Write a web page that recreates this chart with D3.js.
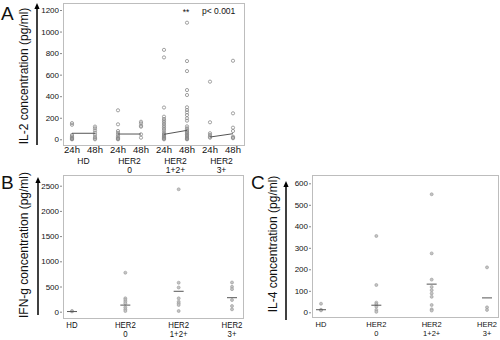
<!DOCTYPE html>
<html>
<head>
<meta charset="utf-8">
<script src="https://cdn.jsdelivr.net/npm/d3@7"></script>
<style>
body { margin: 0; background: #fff; }
text { font-family: "Liberation Sans", Arial, sans-serif; fill: #111; }
</style>
</head>
<body>
<div id="chart"></div>
<script>
// Group labels (shared by all three panels), one entry per text line
var groupLabels = [["HD"], ["HER2", "0"], ["HER2", "1+2+"], ["HER2", "3+"]];
var timeLabels = ["24h", "48h"];

// Panel A: IL-2 (pg/ml) after 24h and 48h
var il2At24h = [
    [150, 135, 40, 28, 18, 10, 5, 2, 0],
    [269, 139, 77, 60, 42, 25, 15, 8, 3, 0],
    [830, 760, 295, 210, 188, 173, 158, 142, 126, 111, 96, 80, 61, 49, 40, 31, 24, 18, 10, 5, 0],
    [535, 158, 56, 40, 24, 15]
];
var il2At48h = [
    [118, 102, 82, 62, 42, 20, 8, 0],
    [163, 148, 126, 117, 46, 15],
    [1082, 726, 633, 457, 411, 297, 272, 250, 225, 195, 173, 120, 102, 90, 77, 65, 58, 45, 40, 30, 21, 12, 6, 3, 0],
    [729, 241, 108, 77, 24, 15, 10]
];
var il2Median24h = [56, 49, 46, 21];
var il2Median48h = [56, 49, 83, 52];
var il2Ticks = [0, 200, 400, 600, 800, 1000, 1200];

// Panel B: IFN-g (pg/ml)
var ifng = [
    [14, 5],
    [774, 266, 232, 198, 166, 87, 47, 14],
    [2429, 575, 480, 266, 198, 166, 133, 14],
    [580, 495, 447, 232, 113, 47]
];
var ifngMedian = [3, 131, 405, 278];
var ifngTicks = [0, 500, 1000, 1500, 2000, 2500];

// Panel C: IL-4 (pg/ml)
var il4 = [
    [40, 12, 9],
    [355, 127, 45, 38, 26, 11, 2],
    [549, 274, 152, 118, 103, 88, 72, 34, 14, 8],
    [209, 23, 11]
];
var il4Median = [12, 33, 131, 67];
var il4Ticks = [0, 100, 200, 300, 400, 500, 600];

var svg = d3.select("#chart")
    .append("svg")
    .attr("width", 500)
    .attr("height", 340);

// helpers
function drawFrame(x0, y0, x1, y1) {
    svg.append("rect")
        .attr("x", x0 + 0.5).attr("y", y0 + 0.5)
        .attr("width", x1 - x0).attr("height", y1 - y0)
        .attr("fill", "none")
        .attr("stroke", "#bdbdbd");
}

function drawYAxis(scale, ticks, x) {
    var g = svg.append("g")
        .attr("transform", "translate(" + x + ",0)")
        .call(d3.axisLeft(scale).tickValues(ticks).tickFormat(d3.format("d")).tickSize(2).tickPadding(1));
    g.select(".domain").remove();
    g.selectAll(".tick line").attr("stroke", "#888");
    g.selectAll(".tick text")
        .attr("font-size", "8px")
        .attr("font-family", "Liberation Sans, Arial, sans-serif")
        .attr("fill", "#222");
}

function drawArrow(x, yBottom, yTip) {
    svg.append("line")
        .attr("x1", x).attr("x2", x)
        .attr("y1", yBottom).attr("y2", yTip + 4)
        .attr("stroke", "#000")
        .attr("stroke-width", 1.5);
    svg.append("path")
        .attr("d", "M" + x + "," + yTip + "L" + (x - 2.6) + "," + (yTip + 6) + "L" + (x + 2.6) + "," + (yTip + 6) + "Z")
        .attr("fill", "#000");
}

function drawYLabel(text, x, y) {
    svg.append("text")
        .attr("transform", "translate(" + x + "," + y + ") rotate(-90)")
        .attr("text-anchor", "middle")
        .attr("font-size", "12px")
        .text(text);
}

function drawPanelLetter(letter, x, y) {
    svg.append("text")
        .attr("x", x).attr("y", y)
        .attr("font-size", "19px")
        .text(letter);
}

// ---------- Panel A ----------
var xA = d3.scalePoint().domain(d3.range(8)).range([72, 233]);
var yA = d3.scaleLinear().domain([0, 1200]).range([139.3, 10]);

drawFrame(63, 3, 244, 145);
drawYAxis(yA, il2Ticks, 62);

groupLabels.forEach(function (lab, i) {
    [il2At24h[i], il2At48h[i]].forEach(function (vals, t) {
        svg.selectAll(null)
            .data(vals)
            .enter()
            .append("circle")
            .attr("cx", xA(i * 2 + t))
            .attr("cy", d => yA(d))
            .attr("r", 1.6)
            .attr("fill", "none")
            .attr("stroke", "#8a8a8a")
            .attr("stroke-width", 0.8);
    });
    // median line joining 24h and 48h
    svg.append("line")
        .attr("x1", xA(i * 2)).attr("y1", yA(il2Median24h[i]))
        .attr("x2", xA(i * 2 + 1)).attr("y2", yA(il2Median48h[i]))
        .attr("stroke", "#555")
        .attr("stroke-width", 1);

    timeLabels.forEach(function (tl, t) {
        svg.append("text")
            .attr("x", xA(i * 2 + t)).attr("y", 153)
            .attr("text-anchor", "middle")
            .attr("font-size", "9.5px")
            .text(tl);
    });
    var cx = (xA(i * 2) + xA(i * 2 + 1)) / 2;
    lab.forEach(function (line, k) {
        svg.append("text")
            .attr("x", cx).attr("y", 164 + k * 8.5)
            .attr("text-anchor", "middle")
            .attr("font-size", "8.5px")
            .text(line);
    });
});

svg.append("text")
    .attr("x", 186).attr("y", 15)
    .attr("text-anchor", "middle")
    .attr("font-size", "8.5px")
    .text("**");
svg.append("text")
    .attr("x", 202).attr("y", 14)
    .attr("font-size", "8.5px")
    .text("p< 0.001");

drawArrow(37, 145, 3);
drawYLabel("IL-2 concentration (pg/ml)", 28, 76);
drawPanelLetter("A", 1, 20);

// ---------- shared drawing for B and C ----------
function drawDotPanel(values, medians, xScale, yScale, labelSize, labelY, labelGap, squeeze) {
    values.forEach(function (vals, i) {
        svg.selectAll(null)
            .data(vals)
            .enter()
            .append("circle")
            .attr("cx", xScale(i))
            .attr("cy", d => yScale(d))
            .attr("r", 1.5)
            .attr("fill", "#c4c4c4")
            .attr("stroke", "#999")
            .attr("stroke-width", 0.6);
        svg.append("line")
            .attr("x1", xScale(i) - 5).attr("x2", xScale(i) + 5)
            .attr("y1", yScale(medians[i])).attr("y2", yScale(medians[i]))
            .attr("stroke", "#555")
            .attr("stroke-width", 1);
        groupLabels[i].forEach(function (line, k) {
            var t = svg.append("text")
                .attr("x", xScale(i)).attr("y", labelY + k * labelGap)
                .attr("text-anchor", "middle")
                .attr("font-size", labelSize + "px")
                .text(line);
            if (squeeze) {
                var w = t.node().getComputedTextLength();
                t.attr("textLength", w * squeeze).attr("lengthAdjust", "spacingAndGlyphs");
            }
        });
    });
}

// ---------- Panel B ----------
var xB = d3.scalePoint().domain(d3.range(4)).range([72, 232]);
var yB = d3.scaleLinear().domain([0, 2500]).range([311.7, 185.7]);

drawFrame(63, 175, 243, 318);
drawYAxis(yB, ifngTicks, 62);
drawDotPanel(ifng, ifngMedian, xB, yB, 9.5, 327.5, 9.5, 0.82);
drawArrow(38, 315, 177);
drawYLabel("IFN-g concentration (pg/ml)", 28, 245);
drawPanelLetter("B", 1, 189);

// ---------- Panel C ----------
var xC = d3.scalePoint().domain(d3.range(4)).range([321, 487]);
var yC = d3.scaleLinear().domain([0, 600]).range([312.3, 183.3]);

drawFrame(312, 175, 498, 317);
drawYAxis(yC, il4Ticks, 311);
drawDotPanel(il4, il4Median, xC, yC, 7.5, 326.5, 9.3, null);
drawArrow(286, 320, 181);
drawYLabel("IL-4 concentration (pg/ml)", 277, 244);
drawPanelLetter("C", 251, 189);
</script>
</body>
</html>
